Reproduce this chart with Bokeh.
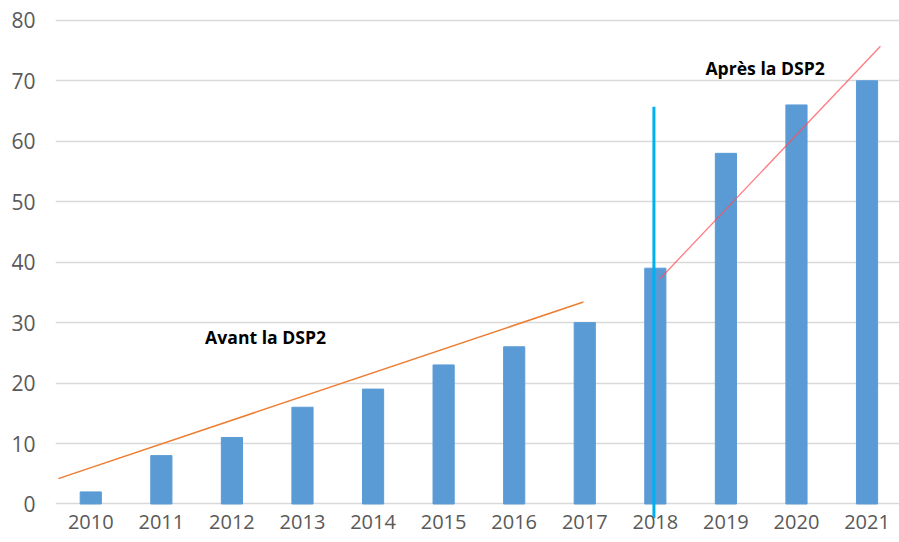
from bokeh.plotting import figure
from bokeh.models import FixedTicker, Range1d
from bokeh.core.properties import value
from bokeh.embed import file_html
from bokeh.resources import INLINE

years = ["2010", "2011", "2012", "2013", "2014", "2015", "2016", "2017", "2018", "2019", "2020", "2021"]
counts = [2, 8, 11, 16, 19, 23, 26, 30, 39, 58, 66, 70]
y_ticks = [0, 10, 20, 30, 40, 50, 60, 70, 80]

# hand-drawn trend lines (x in year-index units)
before_x = [-0.46, 6.98]
before_y = [4.2, 33.4]
after_x = [8.07, 11.19]
after_y = [37.3, 75.7]
# vertical marker at 2018
marker_x = [7.98, 7.98]
marker_y = [-2.4, 65.7]

idx = list(range(len(years)))

p = figure(width=899, height=542, output_backend="svg", toolbar_location=None,
           x_range=Range1d(-0.5, 11.46), y_range=Range1d(-2.4, 80.3),
           min_border_left=55, min_border_right=0, min_border_top=18, min_border_bottom=24)
p.outline_line_color = None
p.background_fill_color = "white"
p.border_fill_color = "white"

p.xgrid.grid_line_color = None
p.ygrid.grid_line_color = "#D9D9D9"
p.ygrid.grid_line_width = 1.6
p.yaxis.ticker = FixedTicker(ticks=y_ticks)
p.xaxis.ticker = FixedTicker(ticks=idx)
p.xaxis.major_label_overrides = {i: y for i, y in zip(idx, years)}

for ax in (p.xaxis, p.yaxis):
    ax.axis_line_color = None
    ax.major_tick_line_color = None
    ax.minor_tick_line_color = None
    ax.major_tick_out = 0
    ax.major_tick_in = 0
    ax.minor_tick_out = 0
    ax.major_label_text_font = "Open Sans"
    ax.major_label_text_color = "#595959"
p.yaxis.major_label_text_font_size = "21px"
p.xaxis.major_label_text_font_size = "20px"
p.yaxis.major_label_standoff = 20
p.xaxis.major_label_standoff = -4

p.vbar(x=idx, top=counts, width=0.3, color="#5B9BD5")
p.line(before_x, before_y, line_color="#ED7D31", line_width=1.5)
p.line(after_x, after_y, line_color="#FF4F55", line_alpha=0.75, line_width=1.3)
p.line(marker_x, marker_y, line_color="#00B0F0", line_width=3)

p.text(x=[1.62], y=[27.6], text=["Avant la DSP2"], text_font=value("Open Sans"),
       text_font_style="bold", text_font_size="17.6px", text_color="black",
       text_baseline="middle", text_align="left")
p.text(x=[8.71], y=[72.1], text=["Après la DSP2"], text_font=value("Open Sans"),
       text_font_style="bold", text_font_size="17.6px", text_color="black",
       text_baseline="middle", text_align="left")

open("out.html", "w").write(file_html(p, INLINE))
